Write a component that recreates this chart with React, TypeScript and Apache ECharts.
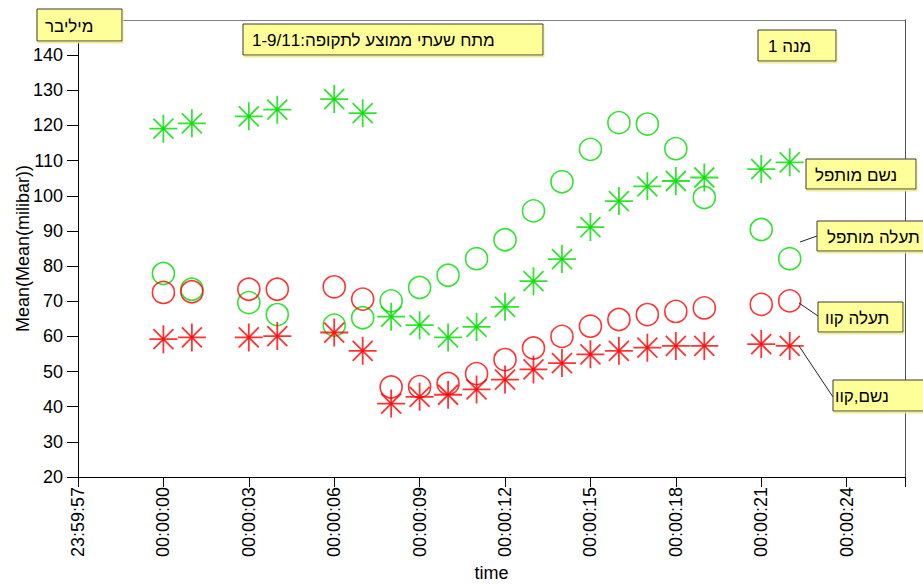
import React, { useEffect, useRef } from "react";
import * as echarts from "echarts";

// seconds after 00:00:00 at which the hourly means were taken
const seconds = [0, 1, 3, 4, 6, 7, 8, 9, 10, 11, 12, 13, 14, 15, 16, 17, 18, 19, 21, 22];

// נשם מותפל
const breathMixed = [119.1, 120.6, 122.6, 124.5, 127.5, 123.5, 65.6, 63.2, 59.7, 62.7, 68.4, 75.7, 82.0, 91.1, 98.5, 102.7, 104.2, 105.2, 107.6, 109.5];
// תעלה מותפל
const channelMixed = [77.9, 73.4, 69.6, 66.2, 63.2, 65.3, 70.1, 73.9, 77.4, 82.1, 87.5, 95.7, 104.0, 113.2, 120.8, 120.4, 113.4, 99.5, 90.4, 82.1];
// תעלה קוו
const channelLine = [72.5, 72.7, 73.4, 73.4, 74.1, 70.6, 45.6, 45.7, 46.6, 49.4, 53.4, 56.7, 60.0, 62.9, 64.8, 66.2, 67.1, 68.1, 69.1, 70.1];
// נשם,קוו
const breathLine = [59.2, 59.7, 59.7, 60.1, 61.1, 55.9, 40.9, 42.8, 43.4, 44.9, 47.7, 50.6, 52.4, 54.9, 55.9, 56.8, 57.3, 57.3, 57.8, 57.3];

const X_MIN = -3;
const X_MAX = 26.05;
const Y_MIN = 20;
const Y_MAX = 150;

const FONT = "'Liberation Sans', Arial, 'DejaVu Sans', sans-serif";
const GREEN = "#00dc00";
const RED = "#ff0000";

// eight-armed asterisk with a small centre dot
const STAR =
  "path://M0,-14L0,14M-14,0L14,0M-10,-10L10,10M-10,10L10,-10M-1.4,-1.4L1.4,-1.4L1.4,1.4L-1.4,1.4Z";

const fmtTime = (s: number) => {
  const t = ((Math.round(s) % 86400) + 86400) % 86400;
  const p = (n: number) => String(n).padStart(2, "0");
  return `${p(Math.floor(t / 3600))}:${p(Math.floor((t % 3600) / 60))}:${p(t % 60)}`;
};

const onStep = (v: number, step: number) => Math.abs(v / step - Math.round(v / step)) < 1e-6;

const pairs = (vals: number[]) => seconds.map((s, i) => [s, vals[i]]);

const box = (x: number, y: number, w: number, h: number, text: string, tx: number) => ({
  type: "group",
  children: [
    {
      type: "rect",
      z: 100,
      shape: { x, y, width: w, height: h },
      style: {
        fill: "#ffff99",
        stroke: "#3a3a3a",
        lineWidth: 1,
        shadowColor: "rgba(235,235,140,0.9)",
        shadowOffsetX: 1,
        shadowOffsetY: 2,
      },
    },
    {
      type: "text",
      z: 101,
      x: tx,
      y: y + h / 2 + 1,
      style: {
        text,
        fill: "#000",
        font: `17px ${FONT}`,
        textAlign: "left",
        textVerticalAlign: "middle",
      },
    },
  ],
});

const leader = (x1: number, y1: number, x2: number, y2: number) => ({
  type: "line",
  z: 99,
  shape: { x1, y1, x2, y2 },
  style: { stroke: "#222", lineWidth: 1 },
});

// plain frame axis: only its line is drawn
const frameAxis = (type: string, position: string, min: number, max: number, color: string) => ({
  type,
  position,
  min,
  max,
  axisLine: { show: true, onZero: false, lineStyle: { color, width: 1 } },
  axisTick: { show: false },
  axisLabel: { show: false },
  splitLine: { show: false },
  minorSplitLine: { show: false },
  splitArea: { show: false },
});

export default function App() {
  const ref = useRef<HTMLDivElement>(null);

  useEffect(() => {
    document.body.style.margin = "0";
    if (!ref.current) return;
    const chart = echarts.init(ref.current, undefined, { renderer: "svg" });

    const starSeries = (name: string, vals: number[], color: string) => ({
      name,
      type: "scatter",
      data: pairs(vals),
      symbol: STAR,
      symbolSize: 28,
      itemStyle: { color, borderColor: color, borderWidth: 1.8 },
      emphasis: { disabled: true },
    });
    const ringSeries = (name: string, vals: number[], color: string) => ({
      name,
      type: "scatter",
      data: pairs(vals),
      symbol: "circle",
      symbolSize: 22,
      itemStyle: { color: "rgba(0,0,0,0)", borderColor: color, borderWidth: 1.6 },
      emphasis: { disabled: true },
    });

    chart.setOption({
      animation: false,
      textStyle: { fontFamily: FONT },
      grid: {
        left: 78,
        right: 18,
        top: 20,
        bottom: 108,
        show: false,
        outerBoundsMode: "none",
      },
      xAxis: [
        {
          type: "value",
          position: "bottom",
          min: X_MIN,
          max: X_MAX,
          interval: 3,
          name: "time",
          nameLocation: "middle",
          nameGap: 87,
          nameMoveOverlap: false,
          nameTextStyle: { fontSize: 18, color: "#000", fontFamily: FONT },
          axisLine: { show: true, onZero: false, lineStyle: { color: "#000", width: 1 } },
          axisTick: { show: true, inside: false, length: 10, lineStyle: { color: "#000", width: 1 } },
          axisLabel: {
            rotate: 90,
            margin: 10,
            fontSize: 18,
            color: "#000",
            fontFamily: FONT,
            formatter: (v: number) => (onStep(v, 3) ? fmtTime(v) : ""),
          },
          splitLine: { show: false, lineStyle: { color: "rgba(0,0,0,0)", width: 0 } },
          minorSplitLine: { show: false },
          splitArea: { show: false },
        },
        frameAxis("value", "top", X_MIN, X_MAX, "#808080"),
      ],
      yAxis: [
        {
          type: "value",
          position: "left",
          min: Y_MIN,
          max: Y_MAX,
          interval: 10,
          name: "Mean(Mean(milibar))",
          nameLocation: "middle",
          nameGap: 46,
          nameMoveOverlap: false,
          nameTextStyle: { fontSize: 18, color: "#000", fontFamily: FONT },
          axisLine: { show: true, onZero: false, lineStyle: { color: "#000", width: 1 } },
          axisTick: { show: true, length: 11, lineStyle: { color: "#000" } },
          axisLabel: {
            margin: 15,
            fontSize: 18,
            color: "#000",
            fontFamily: FONT,
            showMaxLabel: false,
          },
          splitLine: { show: false },
          splitArea: { show: false },
        },
        frameAxis("value", "right", Y_MIN, Y_MAX, "#505050"),
      ],
      series: [
        ringSeries("תעלה מותפל", channelMixed, GREEN),
        ringSeries("תעלה קוו", channelLine, RED),
        starSeries("נשם מותפל", breathMixed, GREEN),
        starSeries("נשם,קוו", breathLine, RED),
      ],
      graphic: [
        leader(800, 242, 817, 236),
        leader(799, 303, 818, 316),
        leader(799, 346, 833, 397),
        box(37, 9, 85, 32, "מיליבר", 45),
        box(243, 24, 300, 31, "מתח שעתי ממוצע לתקופה:1-9/11", 252),
        box(758, 30, 78, 31, "מנה 1", 768),
        box(806, 159, 110, 30, "נשם מותפל", 815),
        box(817, 221, 115, 30, "תעלה מותפל", 827),
        box(818, 302, 85, 30, "תעלה קוו", 825),
        box(833, 380, 100, 31, "נשם,קוו", 835),
      ],
    });

    return () => chart.dispose();
  }, []);

  return <div ref={ref} style={{ width: 923, height: 585 }} />;
}
